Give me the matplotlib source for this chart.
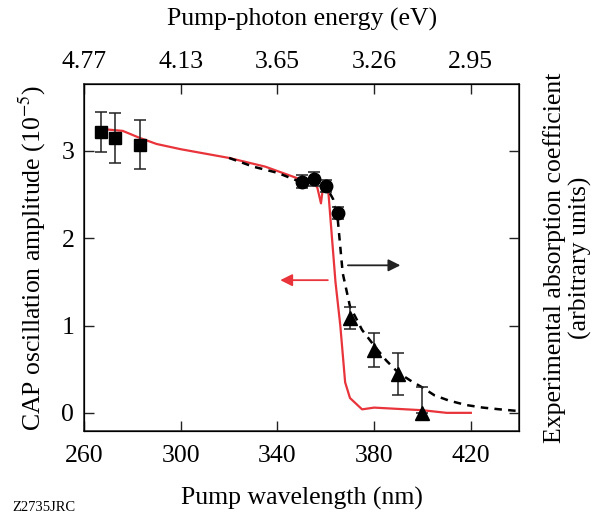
import numpy as np
import matplotlib.pyplot as plt

plt.rcParams['font.family'] = ['Liberation Serif', 'DejaVu Serif']
plt.rcParams['mathtext.fontset'] = 'stix'

# CAP oscillation amplitude, measured points (nm, 1e-5)
sq_wl = [267, 273, 283]
sq_amp = [3.22, 3.15, 3.07]
sq_err = [0.23, 0.29, 0.28]

circ_wl = [350, 355, 360, 365]
circ_amp = [2.65, 2.68, 2.60, 2.29]
circ_err = [0.07, 0.08, 0.07, 0.07]

tri_wl = [370, 380, 390, 400]
tri_amp = [1.09, 0.72, 0.44, 0.0]
tri_err_lo = [0.13, 0.20, 0.24, 0.0]
tri_err_hi = [0.12, 0.19, 0.24, 0.30]

# calculated amplitude (red curve)
calc_wl = [268, 276, 283, 290, 300, 320, 335, 345, 350, 355, 356.5, 358, 359, 360,
           361, 362, 364, 366, 368, 370, 375, 380, 400, 410, 420]
calc_amp = [3.25, 3.23, 3.15, 3.08, 3.02, 2.92, 2.82, 2.72, 2.67, 2.64, 2.58, 2.40,
            2.62, 2.66, 2.55, 2.2, 1.5, 1.0, 0.35, 0.17, 0.04, 0.06, 0.03, 0.0, 0.0]

# experimental absorption coefficient (dashed curve)
abs_wl = [320, 330, 340, 350, 355, 360, 363, 365, 367, 370, 375, 380, 385, 390,
          395, 400, 405, 411, 418, 425, 432, 440]
abs_val = [2.92, 2.82, 2.75, 2.64, 2.65, 2.60, 2.45, 2.2, 1.6, 1.22, 0.95, 0.77,
           0.6, 0.46, 0.37, 0.29, 0.2, 0.14, 0.09, 0.06, 0.04, 0.02]

x_ticks = [260, 300, 340, 380, 420]
top_labels = ['4.77', '4.13', '3.65', '3.26', '2.95']
y_ticks = [0, 1, 2, 3]

red = '#e8343a'
ink = '#222222'
fs = 18.5

fig = plt.figure(figsize=(5.92, 5.17), dpi=100)
ax = fig.add_axes([0.142, 0.166, 0.735, 0.672])

ax.plot(calc_wl, calc_amp, color=red, lw=1.6, zorder=2)
ax.plot(abs_wl, abs_val, color='black', lw=1.8, ls=(0, (3, 2.5)), zorder=2)

ax.errorbar(sq_wl, sq_amp, yerr=sq_err, fmt='s', color='black', ms=9,
            ecolor=ink, elinewidth=1.1, capsize=4, capthick=1.1, zorder=3)
ax.errorbar(circ_wl, circ_amp, yerr=circ_err, fmt='o', color='black', ms=9,
            ecolor=ink, elinewidth=1.1, capsize=4, capthick=1.1, zorder=3)
ax.errorbar(tri_wl, tri_amp, yerr=[tri_err_lo, tri_err_hi], fmt='^', color='black',
            ms=10, ecolor=ink, elinewidth=1.1, capsize=4, capthick=1.1, zorder=3)

# arrows pointing to the relevant axes
ax.annotate('', xy=(392, 1.69), xytext=(368, 1.69),
            arrowprops=dict(arrowstyle='-|>', color=ink, lw=1.3, mutation_scale=18))
ax.annotate('', xy=(340, 1.52), xytext=(362, 1.52),
            arrowprops=dict(arrowstyle='-|>', color=red, lw=1.3, mutation_scale=18))

ax.set_xlim(260, 440)
ax.set_ylim(-0.21, 3.77)
ax.set_xticks(x_ticks)
ax.set_yticks(y_ticks)
ax.tick_params(axis='x', direction='in', length=7, width=1, labelsize=fs, color=ink, pad=10)
ax.tick_params(axis='y', direction='in', length=7, width=1, labelsize=fs, color=ink, pad=7)
ax.set_xlabel('Pump wavelength (nm)', fontsize=fs, labelpad=14)
ax.set_ylabel(r'CAP oscillation amplitude (10$^{-5}$)', fontsize=fs, labelpad=10)
for s in ax.spines.values():
    s.set_color(ink)
    s.set_linewidth(1.1)

top = ax.twiny()
top.set_xlim(ax.get_xlim())
top.set_xticks(x_ticks)
top.set_xticklabels(top_labels)
top.tick_params(direction='in', length=7, width=1, labelsize=fs, color=ink, pad=8)
top.set_xlabel('Pump-photon energy (eV)', fontsize=fs, labelpad=18)

right = ax.twinx()
right.set_ylim(ax.get_ylim())
right.set_yticks(y_ticks)
right.set_yticklabels([])
right.tick_params(direction='in', length=7, width=1, color=ink)
right.set_ylabel('Experimental absorption coefficient\n(arbitrary units)',
                 fontsize=fs, labelpad=14, linespacing=1.15)

fig.text(0.02, 0.012, 'Z2735JRC', fontsize=10.5)

fig.savefig('out.png', dpi=100)
